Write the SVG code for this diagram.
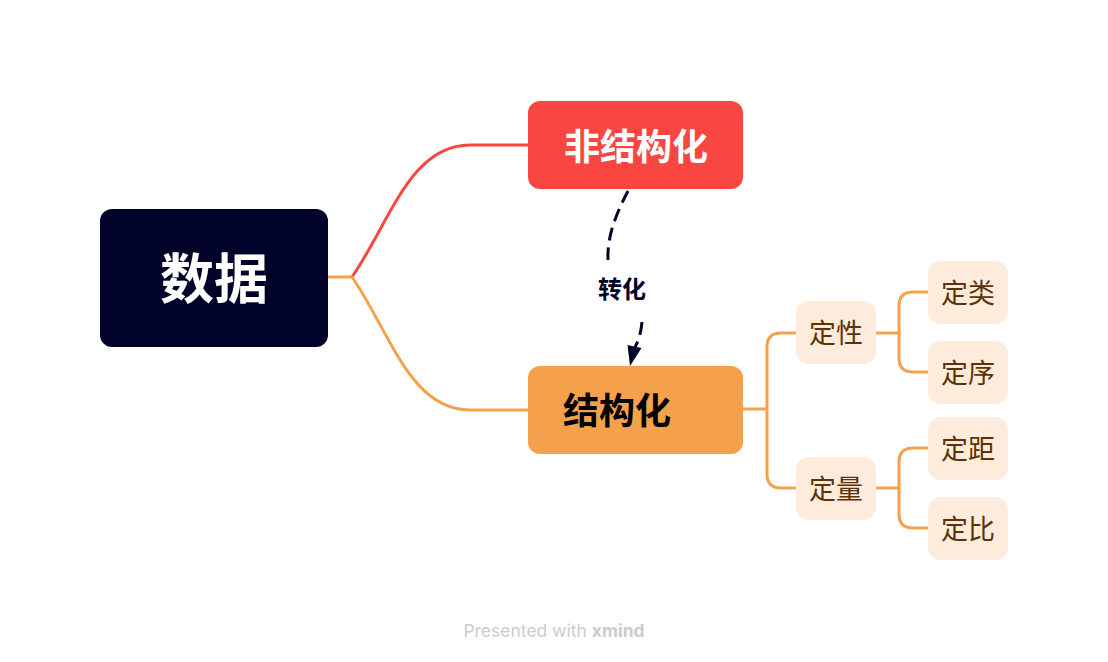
<svg xmlns="http://www.w3.org/2000/svg" width="1108" height="662" viewBox="0 0 1108 662">
<defs>
<style>
.cjk{font-family:"Noto Sans CJK SC","Noto Sans",sans-serif;text-anchor:middle;dominant-baseline:central}
.leaf rect{fill:#FDEBDB}
.leaf text{fill:#5E3208;font-size:27px}
.or{fill:none;stroke:#F5A14B;stroke-width:3;stroke-linecap:round;stroke-linejoin:round}
.dash{fill:none;stroke:#000229;stroke-width:3;stroke-dasharray:13,7}
</style>
</defs>
<rect width="1108" height="662" fill="#ffffff"/>
<g id="connectors">
<path class="or" d="M328,277 H352"/>
<path d="M352,277 C390,222 410,145 470,145 H528" fill="none" stroke="#F94640" stroke-width="3" stroke-linecap="round"/>
<path class="or" d="M352,277 C390,332 410,410 470,410 H528"/>
<path class="or" d="M743,409 H767"/>
<path class="or" d="M796,333 H781 Q767,333 767,347 V474 Q767,488 781,488 H796"/>
<path class="or" d="M876,333 H899"/>
<path class="or" d="M929,292 H913 Q899,292 899,306 V358 Q899,372 913,372 H929"/>
<path class="or" d="M876,488 H899"/>
<path class="or" d="M929,448 H913 Q899,448 899,462 V514 Q899,528 913,528 H929"/>
<path class="dash" d="M628,191 C616,214 607,236 608,260"/>
<path class="dash" d="M642,322 C641,332 639,340 635,347"/>
<polygon points="630,366 641.5,348 627.5,345" fill="#000229"/>
<text class="cjk" x="622" y="287" font-size="24" font-weight="bold" fill="#000229">转化</text>
</g>
<g id="node-root">
<rect x="100" y="209" width="228" height="138" rx="12" fill="#000229"/>
<text class="cjk" x="214" y="275" font-size="54" font-weight="bold" fill="#ffffff">数据</text>
</g>
<g id="node-unstructured">
<rect x="528" y="101" width="215" height="88" rx="12" fill="#F94640"/>
<text class="cjk" x="636" y="144" font-size="36" font-weight="bold" fill="#ffffff">非结构化</text>
</g>
<g id="node-structured">
<rect x="528" y="366" width="215" height="88" rx="12" fill="#F5A14B"/>
<text class="cjk" x="617" y="408" font-size="36" font-weight="bold" fill="#000000">结构化</text>
</g>
<g id="node-qualitative" class="leaf">
<rect x="796" y="301" width="80" height="63" rx="13"/>
<text class="cjk" x="836" y="331">定性</text>
</g>
<g id="node-quantitative" class="leaf">
<rect x="796" y="457" width="80" height="63" rx="13"/>
<text class="cjk" x="836" y="487">定量</text>
</g>
<g id="node-nominal" class="leaf">
<rect x="928" y="261" width="80" height="63" rx="13"/>
<text class="cjk" x="968" y="291">定类</text>
</g>
<g id="node-ordinal" class="leaf">
<rect x="928" y="341" width="80" height="63" rx="13"/>
<text class="cjk" x="968" y="371">定序</text>
</g>
<g id="node-interval" class="leaf">
<rect x="928" y="417" width="80" height="63" rx="13"/>
<text class="cjk" x="968" y="447">定距</text>
</g>
<g id="node-ratio" class="leaf">
<rect x="928" y="497" width="80" height="63" rx="13"/>
<text class="cjk" x="968" y="527">定比</text>
</g>
<text x="554" y="637" font-family="Inter, 'Open Sans', sans-serif" font-size="17.5" fill="#cccccc" text-anchor="middle">Presented with <tspan font-weight="bold">xmind</tspan></text>
</svg>
